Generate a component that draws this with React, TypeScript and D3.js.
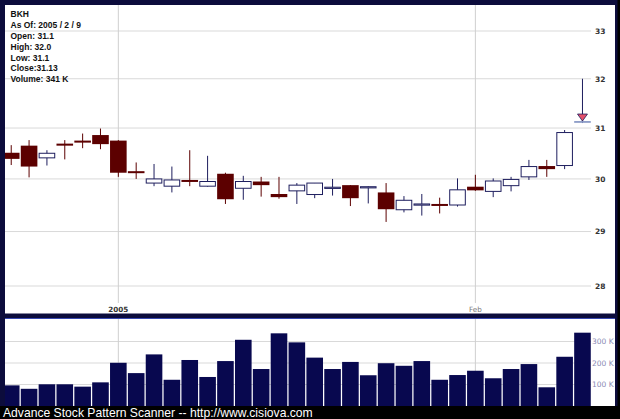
import React from 'react';
import * as d3 from 'd3';

const dates = [
  '2004-12-23', '2004-12-27', '2004-12-28', '2004-12-29', '2004-12-30', '2004-12-31',
  '2005-01-03', '2005-01-04', '2005-01-05', '2005-01-06', '2005-01-07', '2005-01-10',
  '2005-01-11', '2005-01-12', '2005-01-13', '2005-01-14', '2005-01-18', '2005-01-19',
  '2005-01-20', '2005-01-21', '2005-01-24', '2005-01-25', '2005-01-26', '2005-01-27',
  '2005-01-28', '2005-01-31', '2005-02-01', '2005-02-02', '2005-02-03', '2005-02-04',
  '2005-02-07', '2005-02-08', '2005-02-09',
];
const opens = [30.51, 30.65, 30.41, 30.69, 30.75, 30.86, 30.75, 30.15, 29.92, 29.86, 29.98, 29.86,
  30.10, 29.82, 29.95, 29.71, 29.77, 29.70, 29.83, 29.88, 29.85, 29.74, 29.41, 29.52,
  29.52, 29.50, 29.85, 29.76, 29.87, 30.04, 30.25, 30.26, 31.10];
const highs = [30.66, 30.76, 30.56, 30.76, 30.89, 30.99, 30.76, 30.32, 30.29, 30.24, 30.56, 30.45,
  30.12, 30.06, 30.04, 30.04, 29.92, 29.92, 30.00, 29.88, 29.86, 29.92, 29.67, 29.71,
  29.64, 30.01, 30.08, 30.01, 30.04, 30.37, 30.37, 30.96, 32.00];
const lows = [30.27, 30.03, 30.26, 30.38, 30.60, 30.58, 30.04, 30.00, 29.86, 29.74, 29.86, 29.85,
  29.52, 29.60, 29.66, 29.62, 29.52, 29.63, 29.68, 29.48, 29.53, 29.18, 29.36, 29.30,
  29.34, 29.47, 29.77, 29.65, 29.76, 29.98, 30.04, 30.19, 31.10];
const closes = [30.39, 30.24, 30.50, 30.65, 30.71, 30.68, 30.12, 30.12, 30.00, 29.98, 29.95, 29.95,
  29.61, 29.95, 29.88, 29.65, 29.88, 29.92, 29.84, 29.63, 29.85, 29.42, 29.59, 29.52,
  29.50, 29.79, 29.78, 29.96, 29.99, 30.24, 30.19, 30.91, 31.13];
const volumes = [96, 80, 101, 101, 90, 110, 201, 153, 240, 122, 214, 135, 209, 308, 172, 338, 296,
  225, 172, 205, 143, 199, 187, 209, 122, 144, 164, 129, 172, 195, 87, 229, 341];

const priceTicks = [28, 29, 30, 31, 32, 33];
const volTicks = [100, 200, 300];
const volTickLabels = ['100 K', '200 K', '300 K'];
const xTickDates = ['2005-01-03', '2005-02-01'];
const xTickLabels = ['2005', 'Feb'];
const signalDates = ['2005-02-09'];
const infoLines = ['BKH', 'As Of: 2005 / 2 / 9', 'Open: 31.1', 'High: 32.0', 'Low: 31.1', 'Close:31.13', 'Volume: 341 K'];
const footer = 'Advance Stock Pattern Scanner -- http://www.cisiova.com';

const W = 620, H = 419;
const NAVY = '#1e1e5e';
const MAROON = '#5c0000';
const GRID = '#d9d9d9';

export default function App() {
  const x = d3.scaleBand<string>().domain(dates).range([2.3, 591.4]).paddingInner(0.07).paddingOuter(0.035);
  const bw = x.bandwidth();
  const cx = (d: string) => (x(d) as number) + bw / 2;
  const y = d3.scaleLog().domain([28, 33]).range([286, 31]);
  const vy = d3.scaleLinear().domain([0, 300]).range([406, 341.5]);

  const candles = dates.map((d, i) => ({ d, o: opens[i], h: highs[i], l: lows[i], c: closes[i], v: volumes[i] }));

  return (
    <svg width={W} height={H} style={{ position: 'fixed', left: 0, top: 0, display: 'block' }}>
      <defs>
        <clipPath id="mainClip"><rect x={5} y={5} width={610} height={308.5} /></clipPath>
        <clipPath id="volClip"><rect x={5} y={318.5} width={610} height={87.5} /></clipPath>
      </defs>
      <rect x={0} y={0} width={W} height={H} fill="#000" />
      <rect x={0} y={0} width={617.5} height={406} fill="#0c0c3c" />
      {/* main panel */}
      <rect x={5} y={5} width={610} height={308.5} fill="#fff" />
      {/* volume panel */}
      <rect x={5} y={318.5} width={610} height={87.5} fill="#fff" />
      <line x1={5} x2={615} y1={318.5} y2={318.5} stroke="#3848b0" strokeWidth={1.2} />

      <g clipPath="url(#mainClip)">
        {priceTicks.map(t => (
          <line key={t} x1={5} x2={591} y1={y(t)} y2={y(t)} stroke={GRID} strokeWidth={1} />
        ))}
        {xTickDates.map(d => (
          <line key={d} x1={cx(d)} x2={cx(d)} y1={5} y2={303} stroke="#cfcfcf" strokeWidth={1} />
        ))}
        {candles.map(k => {
          const up = k.c >= k.o;
          const signal = signalDates.includes(k.d);
          const yTop = y(Math.max(k.o, k.c));
          const yBot = y(Math.min(k.o, k.c));
          const h = Math.max(1.2, yBot - yTop);
          const col = up ? NAVY : MAROON;
          return (
            <g key={k.d}>
              <line x1={cx(k.d)} x2={cx(k.d)} y1={y(k.h)} y2={y(k.l)} stroke={col} strokeWidth={1} />
              {signal ? (
                <rect x={x(k.d) as number} y={yTop - 0.5} width={bw} height={1.8} fill="#8c9cc8" />
              ) : up ? (
                <rect x={(x(k.d) as number) + 0.5} y={yTop} width={bw - 1} height={h} fill="#fff" stroke={NAVY} strokeWidth={1} />
              ) : (
                <rect x={x(k.d) as number} y={yTop} width={bw} height={Math.max(2, h)} fill={MAROON} />
              )}
              {signal && (
                <path
                  d={`M${cx(k.d) - 5},${yTop - 7.5}L${cx(k.d) + 5},${yTop - 7.5}L${cx(k.d)},${yTop - 0.5}Z`}
                  fill="#e4506a" stroke={NAVY} strokeWidth={0.8}
                />
              )}
            </g>
          );
        })}
      </g>
      {priceTicks.map(t => (
        <text key={t} x={595} y={y(t) + 2.8} fontFamily="DejaVu Sans" fontWeight="bold" fontSize={7.5} fill="#333">{t}</text>
      ))}
      {xTickDates.map((d, i) => (
        <text key={d} x={cx(d)} y={311.5} textAnchor="middle" fontFamily="DejaVu Sans"
          fontWeight={i === 0 ? 'bold' : 'normal'} fontSize={7.2} fill={i === 0 ? '#333' : '#777'}>{xTickLabels[i]}</text>
      ))}
      {infoLines.map((s, i) => (
        <text key={i} x={10.5} y={17.3 + i * 10.8} fontFamily="Liberation Sans, Arial" fontWeight="bold" fontSize={8.5} fill="#111">{s}</text>
      ))}

      <g clipPath="url(#volClip)">
        {volTicks.map(t => (
          <line key={t} x1={5} x2={591} y1={vy(t)} y2={vy(t)} stroke={GRID} strokeWidth={1} />
        ))}
        {xTickDates.map(d => (
          <line key={d} x1={cx(d)} x2={cx(d)} y1={319} y2={406} stroke="#cfcfcf" strokeWidth={1} />
        ))}
        {candles.map(k => (
          <rect key={k.d} x={x(k.d) as number} y={vy(k.v)} width={bw} height={vy(0) - vy(k.v)} fill="#08084f" />
        ))}
      </g>
      {volTicks.map((t, i) => (
        <text key={t} x={592} y={vy(t) + 2.6} fontFamily="DejaVu Sans" fontSize={7.5} fill="#8a8ab4">{volTickLabels[i]}</text>
      ))}

      <text x={3} y={417} fontFamily="Liberation Sans, Arial" fontSize={12.15} fill="#fff">{footer}</text>
    </svg>
  );
}
